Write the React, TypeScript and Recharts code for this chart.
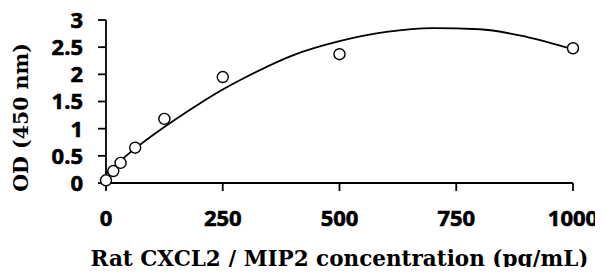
import React from 'react';
import { ComposedChart, Line, Scatter, XAxis, YAxis } from 'recharts';

// standard points (concentration pg/mL -> OD 450)
const concentrations = [0, 15.6, 31.25, 62.5, 125, 250, 500, 1000];
const odValues = [0.05, 0.22, 0.37, 0.65, 1.18, 1.95, 2.37, 2.48];

// fitted trend curve
const curveX = [0, 50, 100, 150, 200, 250, 300, 400, 500, 600, 700, 800, 900, 1000];
const curveY = [0.17, 0.55, 0.88, 1.18, 1.46, 1.72, 1.95, 2.35, 2.61, 2.78, 2.85, 2.83, 2.69, 2.46];

const xTicks = [0, 250, 500, 750, 1000];
const yTicks = [0, 0.5, 1, 1.5, 2, 2.5, 3];

const points = concentrations.map((x, i) => ({ x, y: odValues[i] }));
const curve = curveX.map((x, i) => ({ x, y: curveY[i] }));

const tickStyle = {
  fontFamily: "'Open Sans', sans-serif",
  fontWeight: 700,
  fontSize: 22,
  fill: '#000',
  stroke: '#000',
  strokeWidth: 0.6,
};
const titleFont = { fontFamily: "'DejaVu Serif', serif", fontWeight: 700, fontSize: 21.5, fill: '#000' };

const XTick = ({ x, y, payload }: any) => (
  <text x={x} y={y} dy="0.71em" textAnchor="middle" style={tickStyle}>
    {payload.value}
  </text>
);

const YTick = ({ x, y, payload }: any) => (
  <text x={x} y={y} dy="0.36em" textAnchor="end" style={tickStyle}>
    {payload.value}
  </text>
);

const YTitle = ({ viewBox }: any) => {
  const cx = viewBox.x + 21;
  const cy = viewBox.y + viewBox.height / 2 + 16;
  return (
    <text
      x={cx}
      y={cy}
      transform={`rotate(-90, ${cx}, ${cy})`}
      textAnchor="middle"
      dominantBaseline="central"
      style={{ ...titleFont, fontSize: 20.5 }}
    >
      OD (450 nm)
    </text>
  );
};

const OpenCircle = (props: any) => (
  <circle cx={props.cx} cy={props.cy} r={5.5} fill="#fff" stroke="#000" strokeWidth={1.4} />
);

const App = () => {
  return (
    // cancel the body margin so the chart sits at the page origin
    <div style={{ margin: -8, width: 603, height: 275 }}>
      <ComposedChart width={603} height={275} margin={{ top: 20, right: 30, left: 0, bottom: 0 }}>
        <XAxis
          type="number"
          dataKey="x"
          domain={[0, 1000]}
          ticks={xTicks}
          interval={0}
          height={92}
          tickSize={8}
          tickMargin={19}
          tick={<XTick />}
          axisLine={{ stroke: '#000', strokeWidth: 1.8 }}
          tickLine={{ stroke: '#000', strokeWidth: 1.8 }}
          label={{ value: 'Rat CXCL2 / MIP2 concentration (pg/mL)', position: 'insideBottom', offset: 9, style: titleFont }}
        />
        <YAxis
          type="number"
          dataKey="y"
          domain={[0, 3]}
          ticks={yTicks}
          interval={0}
          width={106}
          tickSize={8}
          tickMargin={15}
          tick={<YTick />}
          axisLine={{ stroke: '#000', strokeWidth: 1.8 }}
          tickLine={{ stroke: '#000', strokeWidth: 1.8 }}
          label={<YTitle />}
        />
        <Line
          data={curve}
          dataKey="y"
          type="monotone"
          stroke="#000"
          strokeWidth={1.8}
          dot={false}
          activeDot={false}
          isAnimationActive={false}
        />
        <Scatter data={points} dataKey="y" shape={<OpenCircle />} isAnimationActive={false} />
      </ComposedChart>
    </div>
  );
};

export default App;
